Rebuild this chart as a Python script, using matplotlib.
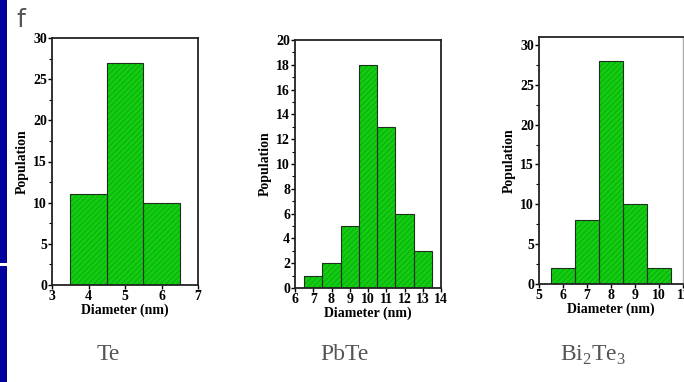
import numpy as np
import matplotlib
matplotlib.use("Agg")
import matplotlib.pyplot as plt
from matplotlib.patches import Rectangle
from matplotlib.ticker import MultipleLocator

# дані гістограм (центр біна, кількість)
te_x = [4, 5, 6]
te_n = [11, 27, 10]

pbte_x = [7, 8, 9, 10, 11, 12, 13]
pbte_n = [1, 2, 5, 18, 13, 6, 3]

bite_x = [6, 7, 8, 9, 10]
bite_n = [2, 8, 28, 10, 2]

names = ["Te", "PbTe", "Bi$_2$Te$_3$"]

plt.rcParams['hatch.linewidth'] = 0.35
plt.rcParams['mathtext.fontset'] = 'custom'
plt.rcParams['mathtext.rm'] = 'Liberation Serif'
serif = ['Liberation Serif', 'DejaVu Serif']

fig = plt.figure(figsize=(6.84, 3.82), dpi=100)
W, H = 684, 382

# синя смуга зліва
fig.add_artist(Rectangle((0, 1 - 263 / H), 7 / W, 263 / H, transform=fig.transFigure,
                         color='#00009c', lw=0))
fig.add_artist(Rectangle((0, 0), 7 / W, (H - 266) / H, transform=fig.transFigure,
                         color='#00009c', lw=0))

fig.text(21 / W, 1 - 20 / H, "f", fontsize=18, color='#555555', family='DejaVu Sans',
         ha='center', va='center')


def panel(box, xs, ns, xlim, ylim, xstep, ystep, yminor):
    l, t, r, b = box
    ax = fig.add_axes([l / W, 1 - b / H, (r - l) / W, (b - t) / H])
    ax.bar(xs, ns, width=1.0, color='#12cc12', edgecolor='#0c8c0c', hatch='//////', lw=0)
    ax.bar(xs, ns, width=1.0, fill=False, edgecolor='#1c301c', lw=0.8)
    ax.set_xlim(*xlim)
    ax.set_ylim(*ylim)
    ax.xaxis.set_major_locator(MultipleLocator(xstep))
    ax.yaxis.set_major_locator(MultipleLocator(ystep))
    ax.yaxis.set_minor_locator(MultipleLocator(yminor))
    ax.tick_params(which='major', direction='out', length=3, width=1, pad=0.5,
                   labelsize=10, top=False, right=False)
    ax.tick_params(which='minor', direction='out', length=2, width=0.8, top=False, right=False)
    for lab in ax.get_xticklabels() + ax.get_yticklabels():
        lab.set_fontfamily(serif)
        lab.set_fontweight('bold')
    for s in ax.spines.values():
        s.set_linewidth(1.3)
        s.set_color('#222222')
    ax.set_xlabel("Diameter (nm)", fontsize=10, fontweight='bold', family=serif, labelpad=0.5)
    ax.set_ylabel("Population", fontsize=10, fontweight='bold', family=serif, labelpad=3)
    return ax


panel((52, 38, 198, 285), te_x, te_n, (3, 7), (0, 30), 1, 5, 2.5)
panel((295, 40, 441, 288), pbte_x, pbte_n, (6, 14), (0, 20), 1, 2, 1)
ax3 = panel((539, 37, 683, 284), bite_x, bite_n, (5, 11), (0, 31), 1, 5, 2.5)
ax3.spines['right'].set_color('#aaaaaa')
ax3.spines['right'].set_linewidth(1)

for cx, name in zip([108, 345, 593], names):
    fig.text(cx / W, 1 - 355 / H, name, fontsize=17, color='#555555', family=serif,
             ha='center', va='center')

fig.savefig("out.png", dpi=100)
